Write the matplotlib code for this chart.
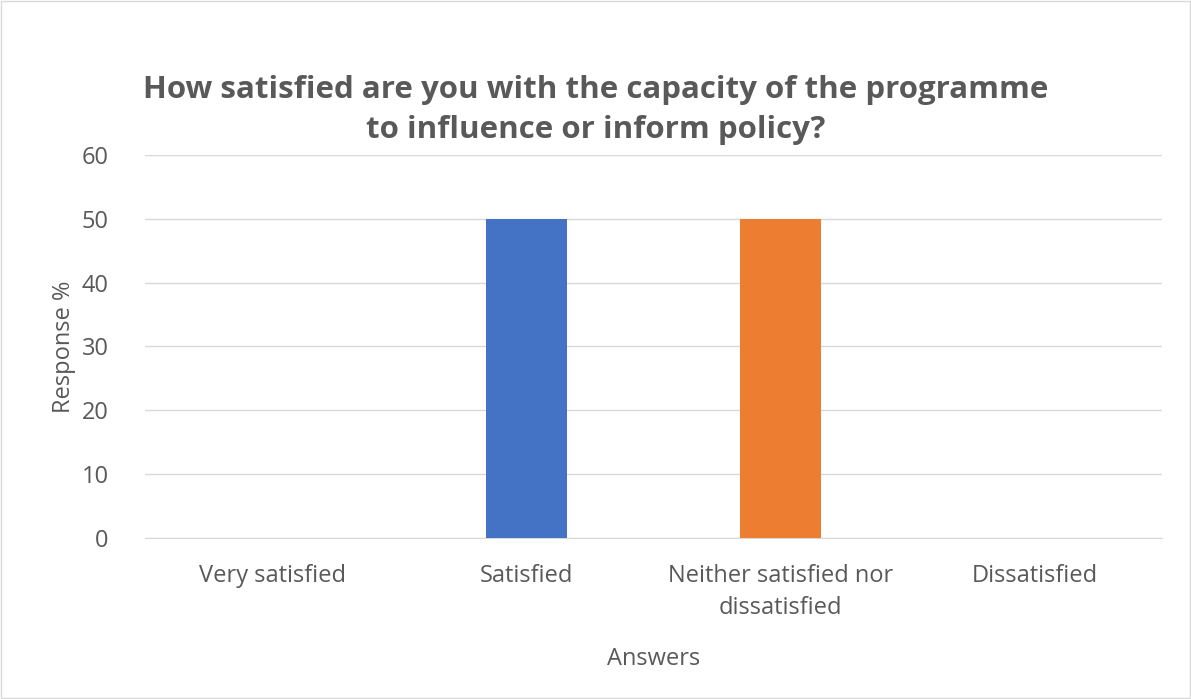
import numpy as np
import matplotlib.pyplot as plt

# Survey answers and response share (%)
categories = ['Very satisfied', 'Satisfied', 'Neither satisfied nor\ndissatisfied', 'Dissatisfied']
responses = [0, 50, 50, 0]
bar_colors = ['#4472C4', '#4472C4', '#ED7D31', '#4472C4']
yticks = [0, 10, 20, 30, 40, 50, 60]

plt.rcParams['font.family'] = ['Open Sans', 'DejaVu Sans']
text_color = '#595959'

fig = plt.figure(figsize=(11.91, 6.99), dpi=100)
ax = fig.add_axes([0.1217, 0.2303, 0.854, 0.548])

x = np.arange(len(categories))
ax.bar(x, responses, width=0.32, color=bar_colors, zorder=3)

ax.set_xlim(-0.5, len(categories) - 0.5)
ax.set_ylim(0, 60)
ax.set_yticks(yticks)
ax.set_xticks(x)
ax.set_xticklabels(categories, fontsize=17, color=text_color, linespacing=1.4)
ax.tick_params(axis='y', labelsize=17, labelcolor=text_color, length=0, pad=26)
ax.tick_params(axis='x', length=0, pad=19)
ax.grid(axis='y', color='#D9D9D9', linewidth=1, zorder=0)
for side in ['top', 'right', 'left']:
    ax.spines[side].set_visible(False)
ax.spines['bottom'].set_color('#D9D9D9')

ax.set_xlabel('Answers', fontsize=17, color=text_color, labelpad=20)
ax.set_ylabel('Response %', fontsize=17, color=text_color, labelpad=4)

fig.text(0.5, 0.843, 'How satisfied are you with the capacity of the programme\nto influence or inform policy?',
         ha='center', va='center', fontsize=22.5, fontweight='bold', color=text_color, linespacing=1.45)

# light border round the figure, like the exported chart
fig.patches.append(plt.Rectangle((0.001, 0.001), 0.998, 0.997, transform=fig.transFigure,
                                 fill=False, edgecolor='#D9D9D9', linewidth=1))

fig.savefig('out.png', dpi=100)
